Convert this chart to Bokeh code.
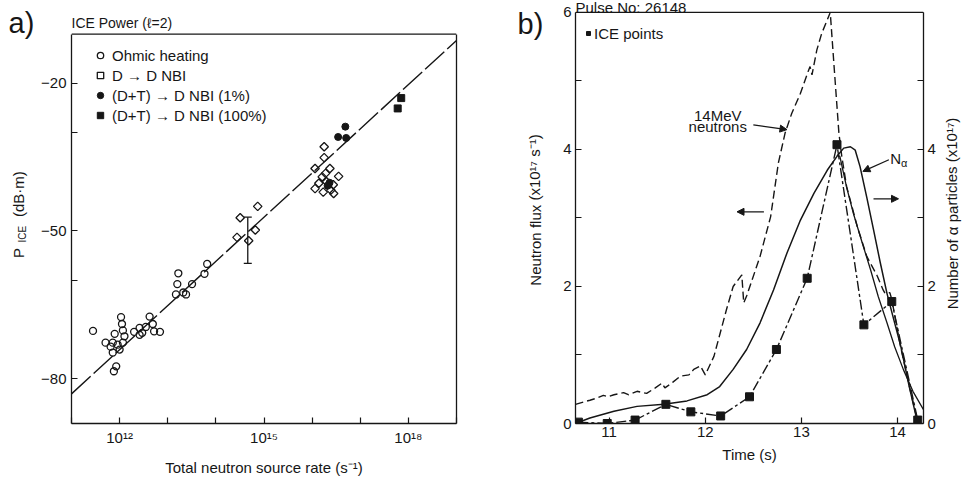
from bokeh.plotting import figure
from bokeh.models import (Range1d, LinearAxis, FixedTicker, Label, Legend, LegendItem,
                          Whisker, ColumnDataSource, Arrow, NormalHead, TeeHead, Span,
                          CustomJSTickFormatter)
from bokeh.layouts import row
from bokeh.embed import file_html
from bokeh.resources import INLINE

FONT = "Liberation Sans"
INK = "#161616"
H = 478          # canvas height
BOTTOM = 54      # common bottom border (row aligns the frames of its plots)

# ---------------- panel a) data ----------------
ohmic_rate = [2.8e11, 1.07e12, 1.12e12, 1.17e12, 7.9e11, 5.1e11, 7.2e11, 9.1e11, 1.17e12,
              6.5e11, 1.0e12, 7.2e11, 8.5e11, 7.6e11, 2.0e12, 2.6e12, 2.95e12, 3.5e12,
              4.2e12, 4.9e12, 5.2e12, 6.9e12, 1.26e12, 2.6e12,
              1.66e13, 1.58e13, 1.48e13, 2.1e13, 2.4e13, 3.2e13, 5.8e13, 6.6e13]
ohmic_pice = [-70.3, -67.5, -68.9, -70.2, -70.9, -72.7, -72.7, -73.1, -72.7,
              -73.5, -74.1, -74.7, -77.5, -78.5, -70.5, -69.7, -70.7, -69.5,
              -67.4, -68.9, -70.4, -70.5, -71.4, -71.1,
              -58.6, -60.8, -62.9, -62.5, -62.9, -60.8, -58.7, -56.7]
ddnbi_rate = [3.2e14, 2.75e14, 6.6e14, 7.4e14, 4.8e14,
              1.78e16, 1.78e16, 1.15e16, 2.34e16, 3.55e16, 1.15e16, 1.7e16, 2.8e16,
              1.62e16, 2.75e16, 1.38e16, 1.9e16, 2.45e16, 2.0e16]
ddnbi_pice = [-47.3, -51.3, -49.8, -45.0, -52.0,
              -32.9, -35.1, -37.3, -37.3, -38.9, -41.4, -42.1, -42.4,
              -39.0, -40.6, -40.3, -38.3, -41.7, -40.0]
dt1_rate = [3.47e16, 4.9e16, 5.1e16, 2.3e16, 2.1e16]
dt1_pice = [-30.9, -28.8, -31.1, -40.2, -40.8]
dt100_rate = [7.1e17, 6.0e17]
dt100_pice = [-23.0, -25.1]
fit_rate = [1e11, 1e19]
fit_pice = [-83.1, -11.3]
err_rate = [4.6e14]
err_low = [-56.6]
err_high = [-47.2]
a_xticks = [1e12, 1e15, 1e18]
a_xminor = [1e11, 1e13, 1e14, 1e16, 1e17, 1e19]
a_yticks = [-80, -50, -20]
a_yminor = [-60, -30]
a_ylim = (-90, -10)

# ---------------- panel b) data ----------------
neutron_t = [10.65, 10.80, 10.87, 10.94, 10.99, 11.05, 11.15, 11.20, 11.29, 11.39,
             11.48, 11.55, 11.58, 11.66, 11.74, 11.83, 11.88, 11.95, 12.00, 12.09,
             12.22, 12.29, 12.38, 12.40, 12.43, 12.57, 12.68, 12.76, 12.83, 12.90,
             12.99, 13.07, 13.09, 13.11, 13.16, 13.21, 13.30, 13.34, 13.39, 13.42,
             13.47, 13.58, 13.68, 13.79, 13.85, 13.87, 13.92, 13.94, 14.03, 14.13,
             14.20]
neutron_flux = [0.28, 0.34, 0.37, 0.41, 0.39, 0.42, 0.45, 0.42, 0.47, 0.44,
                0.52, 0.59, 0.52, 0.60, 0.69, 0.71, 0.79, 0.84, 0.71, 0.98,
                1.66, 2.00, 2.17, 1.76, 1.86, 2.44, 3.02, 3.80, 4.24, 4.53,
                4.82, 5.14, 5.21, 5.09, 5.45, 5.69, 6.00, 5.21, 4.24, 3.90,
                3.46, 2.88, 2.44, 2.15, 1.95, 1.90, 1.91, 1.81, 1.13, 0.50,
                0.08]
nalpha_t = [10.65, 10.80, 11.05, 11.29, 11.57, 11.81, 12.02, 12.15, 12.29, 12.43,
            12.57, 12.71, 12.85, 12.99, 13.13, 13.27, 13.37, 13.44, 13.51, 13.56,
            13.61, 13.68, 13.75, 13.82, 13.89, 13.96, 14.03, 14.12, 14.20]
nalpha_n = [0.00, 0.08, 0.18, 0.25, 0.28, 0.33, 0.42, 0.54, 0.79, 1.08,
            1.47, 1.95, 2.49, 2.97, 3.36, 3.70, 3.90, 4.02, 4.04, 3.99,
            3.75, 3.30, 2.83, 2.35, 1.90, 1.52, 1.15, 0.55, 0.06]
decay_t = [13.37, 13.40, 13.47, 13.54, 13.63, 13.72, 13.80, 13.89, 13.97, 14.06, 14.16, 14.27]
decay_n = [3.92, 3.90, 3.45, 3.07, 2.65, 2.24, 1.85, 1.47, 1.12, 0.79, 0.47, 0.20]
ice_t = [10.68, 10.98, 11.27, 11.59, 11.85, 12.16, 12.46, 12.74, 13.06, 13.37, 13.65, 13.94, 14.21]
ice_v = [0.02, 0.00, 0.05, 0.28, 0.17, 0.11, 0.39, 1.08, 2.12, 4.07, 1.44, 1.78, 0.05]
b_xticks = [11, 12, 13, 14]
b_yticks = [0, 2, 4, 6]
b_yminor = [1, 3, 5]
b_rticks = [0, 2, 4]
b_rminor = [1, 3, 5, 6]
b_ylim = (0, 6)


def style_axis(ax):
    ax.axis_line_color = INK
    ax.axis_line_width = 1.3
    ax.major_tick_line_color = INK
    ax.major_tick_line_width = 1.2
    ax.minor_tick_line_color = INK
    ax.minor_tick_line_width = 1.2
    ax.major_tick_in = 6
    ax.major_tick_out = 0
    ax.minor_tick_in = 6
    ax.minor_tick_out = 0
    ax.major_label_text_font = FONT
    ax.major_label_text_font_size = "15px"
    ax.major_label_text_color = INK
    ax.axis_label_text_font = FONT
    ax.axis_label_text_font_size = "15px"
    ax.axis_label_text_font_style = "normal"
    ax.axis_label_text_color = INK


def style_fig(p):
    p.grid.visible = False
    p.outline_line_color = None
    p.background_fill_color = "white"
    p.border_fill_color = "white"


def strip(w):
    """A text-only canvas; its frame spans canvas rows 0..H-BOTTOM and
    data y equals H minus the canvas row, so 1 unit = 1 px."""
    s = figure(width=w, height=H, x_range=Range1d(0, w), y_range=Range1d(BOTTOM, H),
               x_axis_location=None, y_axis_location=None, title=None,
               min_border_left=0, min_border_right=0, min_border_top=0,
               min_border_bottom=BOTTOM, output_backend="svg", toolbar_location=None)
    s.grid.visible = False
    s.outline_line_color = None
    s.background_fill_color = "white"
    s.border_fill_color = "white"
    return s


def lab(p, x, y, text, size="15px", angle=0, align="left", baseline="middle", xoff=0):
    p.add_layout(Label(x=x, y=y, text=text, text_font=FONT, text_font_size=size,
                       text_color=INK, angle=angle, text_align=align,
                       text_baseline=baseline, x_offset=xoff))


def style_legend(lg, glyph_w, standoff):
    lg.border_line_alpha = 0
    lg.background_fill_alpha = 0
    lg.label_text_font = FONT
    lg.label_text_font_size = "15px"
    lg.label_text_color = INK
    lg.spacing = 0
    lg.padding = 0
    lg.margin = 0
    lg.glyph_width = glyph_w
    lg.glyph_height = 20
    lg.label_height = 20
    lg.label_standoff = standoff


def plain_axis(bounds=None):
    ax = LinearAxis(ticker=FixedTicker(ticks=[], minor_ticks=[]))
    ax.major_label_text_font_size = "0px"
    ax.axis_line_color = INK
    ax.axis_line_width = 1.3
    ax.major_tick_line_color = None
    ax.minor_tick_line_color = None
    if bounds is not None:
        ax.bounds = bounds
    return ax


# ================= panel a =================
# the frame reaches the canvas top so the header text can sit inside it;
# the visible box is closed at a_ylim by bounded axes and a Span.
p1 = figure(width=442, height=H, x_axis_type="log", title=None,
            x_range=Range1d(1e11, 1e19), y_range=Range1d(-89.12, -3.17),
            output_backend="svg", toolbar_location=None,
            min_border_left=31, min_border_right=24, min_border_top=0,
            min_border_bottom=BOTTOM)
style_fig(p1)
for ax in (p1.xaxis[0], p1.yaxis[0]):
    style_axis(ax)
p1.yaxis.bounds = a_ylim
p1.xaxis.ticker = FixedTicker(ticks=a_xticks, minor_ticks=a_xminor)
p1.xaxis.formatter = CustomJSTickFormatter(code="""
const sup = {"0":"\u2070","1":"\u00b9","2":"\u00b2","3":"\u00b3","4":"\u2074",
             "5":"\u2075","6":"\u2076","7":"\u2077","8":"\u2078","9":"\u2079"};
const e = Math.round(Math.log10(tick)).toString();
return "10" + e.split("").map(c => sup[c]).join("");
""")
p1.yaxis.ticker = FixedTicker(ticks=a_yticks, minor_ticks=a_yminor)
p1.yaxis.formatter = CustomJSTickFormatter(code="""
return tick < 0 ? "\u2212" + Math.abs(tick) : tick.toString();
""")
p1.xaxis.major_label_standoff = 5
p1.yaxis.major_label_standoff = 5
p1.xaxis.axis_label = "Total neutron source rate (s\u207b\u00b9)"
p1.xaxis.axis_label_standoff = 10
p1.add_layout(plain_axis(bounds=a_ylim), "right")
p1.add_layout(Span(location=a_ylim[1], dimension="width", line_color=INK, line_width=1.3))

p1.line(fit_rate, fit_pice, line_dash="26 4", line_width=1.4, line_color=INK)
r_ohm = p1.scatter(ohmic_rate, ohmic_pice, marker="circle", size=7, fill_color=None,
                   line_color=INK, line_width=1.3)
r_dd = p1.scatter(ddnbi_rate, ddnbi_pice, marker="square", angle=0.7854, size=6,
                  fill_color=None, line_color=INK, line_width=1.3)
r_dt1 = p1.scatter(dt1_rate, dt1_pice, marker="circle", size=7, fill_color=INK,
                   line_color=INK)
r_dt100 = p1.scatter(dt100_rate, dt100_pice, marker="square", size=7, fill_color=INK,
                     line_color=INK)
err_src = ColumnDataSource(dict(base=err_rate, lower=err_low, upper=err_high))
p1.add_layout(Whisker(source=err_src, base="base", lower="lower", upper="upper",
                      dimension="height", line_color=INK, line_width=1.3,
                      upper_head=TeeHead(size=8, line_color=INK, line_width=1.3),
                      lower_head=TeeHead(size=8, line_color=INK, line_width=1.3)))

leg1 = Legend(items=[
    LegendItem(label="Ohmic heating", renderers=[r_ohm]),
    LegendItem(label="D \u2192 D NBI", renderers=[r_dd]),
    LegendItem(label="(D+T) \u2192 D NBI (1%)", renderers=[r_dt1]),
    LegendItem(label="(D+T) \u2192 D NBI (100%)", renderers=[r_dt100]),
], location=(21, 298))
style_legend(leg1, 16, 4)
p1.add_layout(leg1)

lab(p1, 1e11, -7.69, "ICE Power (\u2113=2)", size="14px", baseline="alphabetic")

side_a = strip(38)
lab(side_a, 8, 455.2, "a)", size="29px", baseline="alphabetic")
lab(side_a, 18, 220, "P", size="15px", angle=1.5708)
lab(side_a, 22, 235.5, "ICE", size="10px", angle=1.5708)
lab(side_a, 18, 261, "(dB\u00b7m)", size="15px", angle=1.5708)

# ================= panel b =================
p2 = figure(width=395, height=H, x_range=Range1d(10.65, 14.27), y_range=Range1d(0, 6.1748),
            title=None, output_backend="svg", toolbar_location=None,
            min_border_left=30, min_border_right=17, min_border_top=0,
            min_border_bottom=BOTTOM)
style_fig(p2)
p2.extra_y_ranges = {"alpha": Range1d(0, 6.1748)}
rax = LinearAxis(y_range_name="alpha")
p2.add_layout(rax, "right")
for ax in (p2.xaxis[0], p2.yaxis[0], rax):
    style_axis(ax)
p2.yaxis.bounds = b_ylim
rax.bounds = b_ylim
p2.xaxis[0].ticker = FixedTicker(ticks=b_xticks, minor_ticks=[])
p2.yaxis[0].ticker = FixedTicker(ticks=b_yticks, minor_ticks=b_yminor)
rax.ticker = FixedTicker(ticks=b_rticks, minor_ticks=b_rminor)
p2.xaxis[0].major_label_standoff = 3
p2.yaxis[0].major_label_standoff = 4
rax.major_label_standoff = 4
p2.xaxis[0].axis_label = "Time (s)"
p2.xaxis[0].axis_label_standoff = 6
p2.add_layout(Span(location=b_ylim[1], dimension="width", line_color=INK, line_width=1.3))

p2.line(neutron_t, neutron_flux, line_dash="8 4", line_width=1.4, line_color=INK)
p2.line(nalpha_t, nalpha_n, y_range_name="alpha", line_width=1.5, line_color=INK)
p2.line(decay_t, decay_n, y_range_name="alpha", line_width=1.3, line_color=INK)
p2.line(ice_t, ice_v, line_dash="10 3 3 3", line_width=1.4, line_color=INK)
r_ice = p2.scatter(ice_t, ice_v, marker="square", size=8, fill_color=INK, line_color=INK)

leg2 = Legend(items=[LegendItem(label="ICE points", renderers=[r_ice])], location=(8, 380))
style_legend(leg2, 10, 1)
p2.add_layout(leg2)

lab(p2, 10.65, 6.077, "Pulse No: 26148", size="15px", baseline="alphabetic")
lab(p2, 12.13, 4.497, "14MeV", align="center")
lab(p2, 12.13, 4.33, "neutrons", align="center")
lab(p2, 13.98, 3.87, "N", align="center")
lab(p2, 14.07, 3.80, "\u03b1", size="11px", align="center")

for (x0, y0, x1, y1) in [(12.50, 4.36, 12.85, 4.29), (12.61, 3.09, 12.33, 3.09),
                         (13.75, 3.28, 14.01, 3.28), (13.91, 3.85, 13.64, 3.68)]:
    p2.add_layout(Arrow(end=NormalHead(size=7, fill_color=INK, line_color=INK),
                        x_start=x0, y_start=y0, x_end=x1, y_end=y1,
                        line_color=INK, line_width=1.3))

side_b = strip(65)
lab(side_b, 37, 454.4, "b)", size="29px", baseline="alphabetic")
lab(side_b, 54.5, 268, "Neutron flux (x10\u00b9\u2077 s\u207b\u00b9)", angle=1.5708, align="center")

side_r = strip(24)
lab(side_r, 11.5, 264.5, "Number of \u03b1 particles (x10\u00b9\u2077)", angle=1.5708, align="center")

layout = row(side_a, p1, side_b, p2, side_r)
open("out.html", "w").write(file_html(layout, INLINE))
